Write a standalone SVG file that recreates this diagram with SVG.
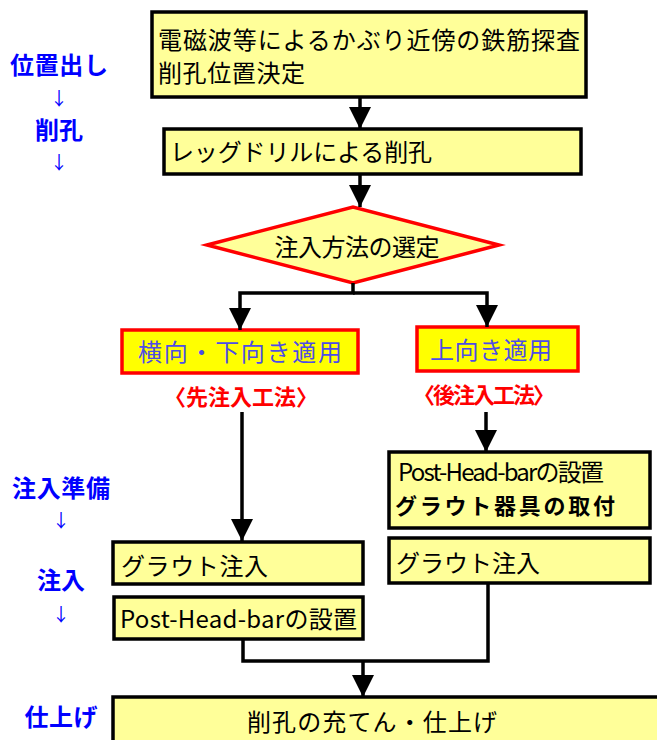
<svg xmlns="http://www.w3.org/2000/svg" width="657" height="740" viewBox="0 0 657 740">
<style>
text{font-family:"Noto Sans CJK JP","Noto Sans",sans-serif;}
.box{fill:#ffff99;stroke:#000;stroke-width:3.5;}
.rbox{fill:#ffff00;stroke:#ff0000;stroke-width:3.5;}
.t{font-size:24px;fill:#000;}
.tb{font-size:22px;fill:#000;font-weight:bold;}
.tc{font-size:24px;fill:#4d4de6;}
.red{font-size:22px;fill:#ff0000;font-weight:bold;}
.lab{font-size:24px;fill:#0000ff;font-weight:bold;}
.arr{font-size:18px;fill:#0000ff;}
.c{fill:none;stroke:#000;stroke-width:3.5;}
</style>
<defs>
<marker id="ah" markerUnits="userSpaceOnUse" markerWidth="22" markerHeight="22" viewBox="0 0 22 22" refX="22" refY="11" orient="auto">
<path d="M0,0 L22,11 L0,22 z" fill="#000"/>
</marker>
</defs>
<g id="labels">
<text class="lab" x="59" y="74" text-anchor="middle" textLength="98">位置出し</text>
<text class="arr" x="59" y="105" text-anchor="middle">↓</text>
<text class="lab" x="59" y="139" text-anchor="middle" textLength="48">削孔</text>
<text class="arr" x="59" y="169" text-anchor="middle">↓</text>
<text class="lab" x="61" y="497" text-anchor="middle" textLength="98">注入準備</text>
<text class="arr" x="61" y="527" text-anchor="middle">↓</text>
<text class="lab" x="61" y="589" text-anchor="middle" textLength="48">注入</text>
<text class="arr" x="61" y="621" text-anchor="middle">↓</text>
<text class="lab" x="61" y="726" text-anchor="middle" textLength="73">仕上げ</text>
</g>
<g id="n1">
<rect class="box" x="152" y="12" width="434" height="85"/>
<text class="t" x="158" y="49" textLength="422">電磁波等によるかぶり近傍の鉄筋探査</text>
<text class="t" x="158" y="82" textLength="147">削孔位置決定</text>
</g>
<g id="n2">
<rect class="box" x="164" y="129" width="417" height="45"/>
<text class="t" x="170" y="161" textLength="262">レッグドリルによる削孔</text>
</g>
<g id="n3">
<polygon points="207,245 353,207 499,245 353,283" fill="#ffff99" stroke="#ff0000" stroke-width="3.5"/>
<text class="t" x="357" y="256" text-anchor="middle" textLength="165">注入方法の選定</text>
</g>
<g id="n4">
<rect class="rbox" x="122" y="330" width="236" height="43"/>
<text class="tc" x="240" y="361" text-anchor="middle" textLength="204">横向・下向き適用</text>
<text class="red" x="241" y="405" text-anchor="middle" textLength="154">〈先注入工法〉</text>
</g>
<g id="n5">
<rect class="rbox" x="417" y="327" width="161" height="44"/>
<text class="tc" x="430" y="359" textLength="122">上向き適用</text>
<text class="red" x="484" y="403" text-anchor="middle" textLength="142">〈後注入工法〉</text>
</g>
<g id="n6">
<rect class="box" x="389" y="452" width="261" height="76"/>
<text class="t" x="398" y="481" font-size="22" textLength="206">Post-Head-barの設置</text>
<text class="tb" x="395" y="514" textLength="220">グラウト器具の取付</text>
</g>
<g id="n7">
<rect class="box" x="389" y="538" width="261" height="45"/>
<text class="t" x="396" y="572" textLength="144">グラウト注入</text>
</g>
<g id="n8">
<rect class="box" x="113" y="542" width="250" height="42"/>
<text class="t" x="121" y="575" textLength="147">グラウト注入</text>
</g>
<g id="n9">
<rect class="box" x="114" y="597" width="249" height="42"/>
<text class="t" x="120" y="628" textLength="237">Post-Head-barの設置</text>
</g>
<g id="n10">
<rect class="box" x="113" y="697" width="560" height="60"/>
<text class="t" x="372" y="731" text-anchor="middle" textLength="250">削孔の充てん・仕上げ</text>
</g>
<g id="connectors">
<path class="c" d="M360,97 V129" marker-end="url(#ah)"/>
<path class="c" d="M360,174 V207" marker-end="url(#ah)"/>
<path class="c" d="M353,283 V293 H240 V330" marker-end="url(#ah)"/>
<path class="c" d="M353,293 H487 V327" marker-end="url(#ah)"/>
<path class="c" d="M242,412 V541" marker-end="url(#ah)"/>
<path class="c" d="M486,412 V452" marker-end="url(#ah)"/>
<path class="c" d="M243,639 V661 H488 V583"/>
<path class="c" d="M363,661 V697" marker-end="url(#ah)"/>
</g>
</svg>
